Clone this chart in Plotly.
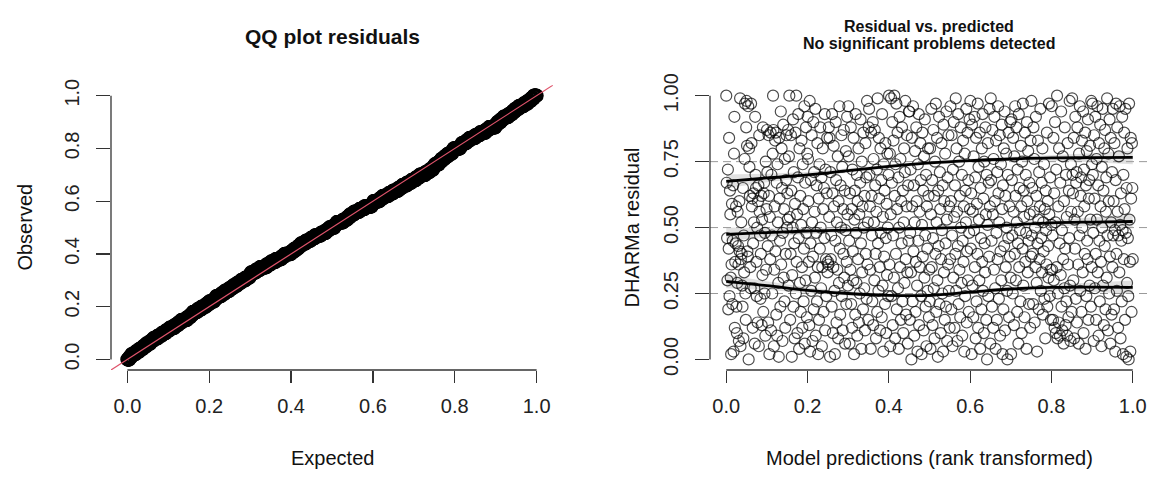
import numpy as np
import plotly.graph_objects as go

# DHARMa scaled residuals (percent), listed in order of rank-transformed model prediction
residual_pct = [
    # 0.00-0.05
    100, 67, 46, 30, 72, 19, 42, 84, 24, 64, 55, 31, 2, 36, 59, 21, 45, 66, 3, 78, 92, 12, 37, 44, 58,
    20, 10, 29, 56, 43, 36, 7, 60, 41, 99, 5, 38, 52, 40, 28, 20, 65, 8, 47, 33, 76, 97, 25, 15, 88,
    # 0.05-0.10
    98, 81, 41, 39, 96, 0, 80, 73, 62, 35, 27, 97, 82, 58, 61, 12, 44, 63, 52, 27, 6, 92, 70, 65, 37,
    24, 50, 14, 60, 66, 5, 85, 56, 47, 23, 40, 62, 13, 53, 32, 88, 18, 63, 67, 25, 48, 9, 75, 34, 57,
    # 0.10-0.15
    87, 71, 43, 14, 85, 62, 2, 54, 38, 86, 11, 70, 47, 25, 78, 100, 87, 5, 34, 58, 83, 41, 86, 17, 67,
    9, 74, 52, 29, 1, 84, 61, 45, 20, 94, 36, 80, 65, 7, 48, 89, 31, 57, 22, 76, 12, 40, 68, 85, 50,
    # 0.15-0.20
    63, 53, 87, 28, 77, 100, 54, 15, 40, 85, 64, 1, 32, 50, 91, 20, 71, 44, 8, 59, 86, 25, 100, 37, 55,
    10, 69, 93, 46, 4, 80, 29, 62, 18, 51, 83, 35, 12, 74, 57, 22, 42, 96, 6, 67, 30, 88, 48, 16, 78,
    # 0.20-0.25
    92, 76, 60, 37, 13, 98, 3, 44, 68, 26, 85, 52, 7, 39, 90, 19, 71, 56, 31, 95, 9, 48, 66, 22, 82,
    35, 2, 61, 15, 74, 42, 88, 50, 27, 69, 5, 35, 80, 57, 18, 65, 46, 93, 11, 72, 38, 24, 63, 84, 33,
    # 0.25-0.30
    37, 36, 88, 54, 84, 1, 71, 38, 47, 20, 93, 63, 10, 35, 81, 58, 26, 2, 45, 90, 68, 14, 52, 34, 77,
    8, 60, 29, 96, 42, 17, 66, 50, 85, 24, 73, 11, 57, 40, 87, 31, 64, 6, 49, 79, 21, 37, 92, 55, 28,
    # 0.30-0.35
    96, 77, 45, 6, 63, 34, 88, 21, 57, 12, 72, 41, 30, 84, 2, 53, 64, 17, 93, 48, 29, 70, 9, 60, 38,
    80, 14, 55, 25, 67, 91, 44, 4, 75, 33, 58, 19, 86, 50, 27, 62, 11, 82, 40, 69, 23, 98, 36, 52, 15,
    # 0.35-0.40
    88, 95, 70, 58, 34, 4, 86, 62, 47, 22, 90, 13, 76, 52, 30, 87, 66, 40, 8, 56, 72, 18, 99, 44, 26,
    84, 61, 35, 11, 80, 48, 68, 16, 93, 28, 54, 3, 74, 39, 64, 21, 82, 46, 10, 59, 32, 78, 50, 24, 70,
    # 0.40-0.45
    100, 36, 78, 5, 55, 99, 24, 67, 90, 13, 47, 83, 31, 100, 62, 8, 74, 40, 97, 19, 57, 86, 27, 69, 4,
    50, 92, 35, 76, 15, 60, 44, 88, 22, 64, 10, 52, 80, 29, 71, 98, 38, 17, 58, 85, 33, 6, 66, 45, 94,
    # 0.45-0.50
    94, 15, 48, 72, 33, 0, 84, 58, 22, 96, 41, 66, 9, 52, 79, 18, 37, 88, 60, 28, 3, 74, 45, 93, 13,
    56, 35, 82, 68, 24, 2, 51, 86, 39, 64, 11, 77, 31, 91, 47, 20, 70, 5, 58, 42, 26, 80, 62, 16, 34,
    # 0.50-0.55
    22, 80, 4, 55, 95, 35, 68, 13, 46, 87, 27, 62, 8, 75, 40, 97, 18, 52, 84, 30, 1, 64, 43, 92, 21,
    71, 57, 10, 38, 82, 49, 25, 66, 3, 89, 33, 60, 15, 78, 44, 20, 94, 53, 7, 69, 36, 85, 26, 58, 12,
    # 0.55-0.60
    38, 96, 60, 19, 85, 47, 5, 72, 31, 90, 54, 12, 66, 40, 99, 26, 80, 56, 7, 43, 93, 21, 75, 34, 62,
    16, 88, 50, 29, 70, 9, 45, 83, 37, 58, 3, 78, 24, 64, 52, 95, 14, 41, 86, 30, 68, 18, 48, 91, 57,
    # 0.60-0.65
    98, 42, 63, 2, 89, 28, 56, 16, 77, 49, 92, 35, 69, 8, 84, 22, 59, 40, 97, 12, 73, 53, 30, 86, 4,
    65, 46, 19, 80, 37, 93, 26, 61, 10, 75, 44, 33, 88, 55, 15, 70, 0, 51, 82, 24, 67, 39, 95, 58, 6,
    # 0.65-0.70
    99, 68, 45, 20, 87, 55, 12, 76, 34, 92, 60, 27, 4, 83, 48, 15, 71, 38, 96, 63, 23, 52, 85, 9, 41,
    74, 30, 89, 57, 2, 66, 19, 80, 43, 94, 11, 62, 35, 78, 50, 26, 0, 70, 46, 86, 16, 58, 39, 90, 31,
    # 0.70-0.75
    2, 91, 68, 47, 25, 84, 56, 13, 77, 40, 96, 62, 30, 88, 52, 18, 72, 44, 6, 93, 35, 65, 49, 22, 81,
    58, 10, 75, 42, 97, 28, 64, 54, 16, 86, 37, 70, 48, 4, 90, 60, 33, 79, 45, 21, 67, 55, 12, 83, 39,
    # 0.75-0.80
    98, 47, 65, 40, 21, 88, 56, 76, 14, 50, 35, 92, 62, 29, 3, 44, 83, 53, 19, 71, 38, 58, 95, 26, 46,
    67, 33, 80, 17, 52, 41, 74, 23, 57, 8, 64, 49, 36, 86, 20, 60, 43, 31, 97, 55, 24, 69, 34, 15, 51,
    # 0.80-0.85
    96, 34, 47, 15, 84, 30, 63, 12, 90, 52, 10, 72, 35, 100, 8, 25, 58, 14, 80, 44, 9, 67, 32, 94, 20,
    49, 11, 77, 38, 6, 60, 27, 88, 42, 13, 70, 22, 54, 9, 82, 36, 16, 64, 46, 98, 28, 7, 74, 56, 18,
    # 0.85-0.90
    99, 70, 63, 30, 84, 8, 53, 42, 92, 23, 67, 71, 14, 88, 56, 36, 6, 78, 47, 96, 26, 62, 69, 18, 83,
    50, 33, 94, 10, 72, 58, 40, 86, 4, 66, 24, 79, 45, 38, 91, 15, 61, 68, 28, 81, 53, 20, 98, 35, 74,
    # 0.90-0.95
    97, 70, 48, 7, 85, 61, 27, 92, 40, 15, 76, 53, 96, 33, 66, 9, 82, 45, 22, 89, 58, 37, 5, 73, 50,
    95, 28, 64, 13, 80, 43, 87, 19, 56, 69, 31, 99, 47, 11, 78, 60, 25, 91, 39, 6, 84, 52, 17, 71, 35,
    # 0.95-1.00
    95, 47, 60, 19, 82, 49, 3, 68, 97, 40, 26, 88, 56, 12, 47, 77, 33, 96, 51, 8, 63, 45, 22, 92, 49,
    2, 70, 38, 86, 57, 15, 95, 48, 1, 65, 29, 80, 46, 24, 0, 97, 53, 37, 3, 84, 61, 18, 82, 65, 38,
]

# Quantile regression curves
quant_x = [0.0, 0.1, 0.2, 0.3, 0.4, 0.5, 0.6, 0.7, 0.8, 0.9, 1.0]
q25_fit = [0.296, 0.280, 0.262, 0.250, 0.243, 0.243, 0.255, 0.267, 0.273, 0.274, 0.273]
q50_fit = [0.474, 0.481, 0.487, 0.490, 0.493, 0.497, 0.502, 0.510, 0.518, 0.521, 0.523]
q75_fit = [0.675, 0.688, 0.700, 0.716, 0.732, 0.745, 0.754, 0.760, 0.764, 0.765, 0.766]
band_halfwidth = [0.026, 0.016, 0.011, 0.008, 0.007, 0.007, 0.007, 0.008, 0.011, 0.017, 0.026]
ref_levels = [0.25, 0.5, 0.75]

x_ticks_left = [0.0, 0.2, 0.4, 0.6, 0.8, 1.0]
y_ticks_left = [0.0, 0.2, 0.4, 0.6, 0.8, 1.0]
y_ticks_right = [0.0, 0.25, 0.5, 0.75, 1.0]

res = np.array(residual_pct, dtype=float) / 100.0
n = len(res)
pred_rank = np.arange(n) / (n - 1)          # rank-transformed predictions
observed = np.sort(res)
expected = (np.arange(1, n + 1) - 0.5) / n  # uniform quantiles

W, H = 1152, 478
def px(x):
    return x / W
def py(y):
    return 1 - y / H

left_dom = [px(111), px(553)]
right_dom = [px(710), px(1149)]
y_dom = [py(372), py(76)]
rng = [-0.04, 1.04]

FONT = "Liberation Sans, Arial, Helvetica, sans-serif"
AX = "#333333"

fig = go.Figure()

# ---- Left: QQ plot ----
fig.add_trace(go.Scatter(
    x=expected, y=observed, mode="markers", xaxis="x", yaxis="y",
    marker=dict(symbol="circle-open", size=12, color="black", line=dict(width=2.5, color="black")),
    showlegend=False, hoverinfo="skip"))
fig.add_trace(go.Scatter(
    x=rng, y=rng, mode="lines", xaxis="x", yaxis="y",
    line=dict(color="#DF536B", width=1.2), showlegend=False, hoverinfo="skip"))

# ---- Right: residual vs predicted ----
qx = np.array(quant_x)
hw = np.array(band_halfwidth)
for q in (q25_fit, q50_fit, q75_fit):
    qa = np.array(q)
    fig.add_trace(go.Scatter(
        x=np.concatenate([qx, qx[::-1]]), y=np.concatenate([qa + hw, (qa - hw)[::-1]]),
        fill="toself", fillcolor="rgba(200,200,200,0.55)", line=dict(width=0),
        mode="lines", xaxis="x2", yaxis="y2", showlegend=False, hoverinfo="skip"))

for lv in ref_levels:
    fig.add_trace(go.Scatter(
        x=rng, y=[lv, lv], mode="lines", xaxis="x2", yaxis="y2",
        line=dict(color="#9a9a9a", width=1, dash="8px,5px"), showlegend=False, hoverinfo="skip"))

fig.add_trace(go.Scatter(
    x=pred_rank, y=res, mode="markers", xaxis="x2", yaxis="y2",
    marker=dict(symbol="circle-open", size=11, color="rgba(0,0,0,0.7)",
                line=dict(width=1.2, color="rgba(0,0,0,0.7)")),
    showlegend=False, hoverinfo="skip"))

for q in (q25_fit, q50_fit, q75_fit):
    fig.add_trace(go.Scatter(
        x=quant_x, y=q, mode="lines", line=dict(color="black", width=2.8, shape="spline"),
        xaxis="x2", yaxis="y2", showlegend=False, hoverinfo="skip"))

common = dict(showgrid=False, zeroline=False, showline=False, ticks="outside",
              tickcolor=AX, tickwidth=1.3, tickfont=dict(family=FONT, size=20, color="#222"),
              range=rng, fixedrange=True, ticklabeloverflow="allow")

fig.update_layout(
    width=W, height=H, margin=dict(l=0, r=0, t=0, b=0),
    paper_bgcolor="white", plot_bgcolor="white", hovermode=False,
    xaxis=dict(domain=left_dom, anchor="y", tickvals=x_ticks_left,
               ticktext=[f"{v:.1f}" for v in x_ticks_left], ticklen=12, ticklabelstandoff=6, **common),
    yaxis=dict(domain=y_dom, anchor="x", tickvals=y_ticks_left,
               ticktext=[f"{v:.1f}" for v in y_ticks_left], ticklen=14, tickangle=-90,
               ticklabelstandoff=9, **common),
    xaxis2=dict(domain=right_dom, anchor="y2", tickvals=x_ticks_left,
                ticktext=[f"{v:.1f}" for v in x_ticks_left], ticklen=12, ticklabelstandoff=6, **common),
    yaxis2=dict(domain=y_dom, anchor="x2", tickvals=y_ticks_right,
                ticktext=[f"{v:.2f}" for v in y_ticks_right], ticklen=14, tickangle=-90,
                ticklabelstandoff=9, **common),
)

# R-style axis lines spanning only the tick range
for xr, yr in (("x", "y"), ("x2", "y2")):
    fig.add_shape(type="line", xref=xr, yref=f"{yr} domain", x0=0, x1=1, y0=0, y1=0,
                  line=dict(color=AX, width=1.3))
    fig.add_shape(type="line", xref=f"{xr} domain", yref=yr, x0=0, x1=0, y0=0, y1=1,
                  line=dict(color=AX, width=1.3))

def ann(text, x, y, size=20, bold=False, angle=0):
    fig.add_annotation(text=f"<b>{text}</b>" if bold else text, x=px(x), y=py(y),
                       xref="paper", yref="paper", showarrow=False, textangle=angle,
                       font=dict(family=FONT, size=size, color="#111"),
                       xanchor="center", yanchor="middle")

ann("QQ plot residuals", 332, 25, size=21, bold=True)
ann("Expected", 332, 463)
ann("Observed", 25, 224, angle=-90)
ann("Residual vs. predicted", 929, 15, size=16, bold=True)
ann("No significant problems detected", 929, 33, size=16, bold=True)
ann("Model predictions (rank transformed)", 929, 463)
ann("DHARMa residual", 632, 224, angle=-90)

# remove the browser's default 8px body margin so the 1152x478 figure fills the window exactly
fig.write_html("out.html", config={"displayModeBar": False, "staticPlot": True},
               post_script="document.body.style.margin='0';document.body.style.overflow='hidden';")
